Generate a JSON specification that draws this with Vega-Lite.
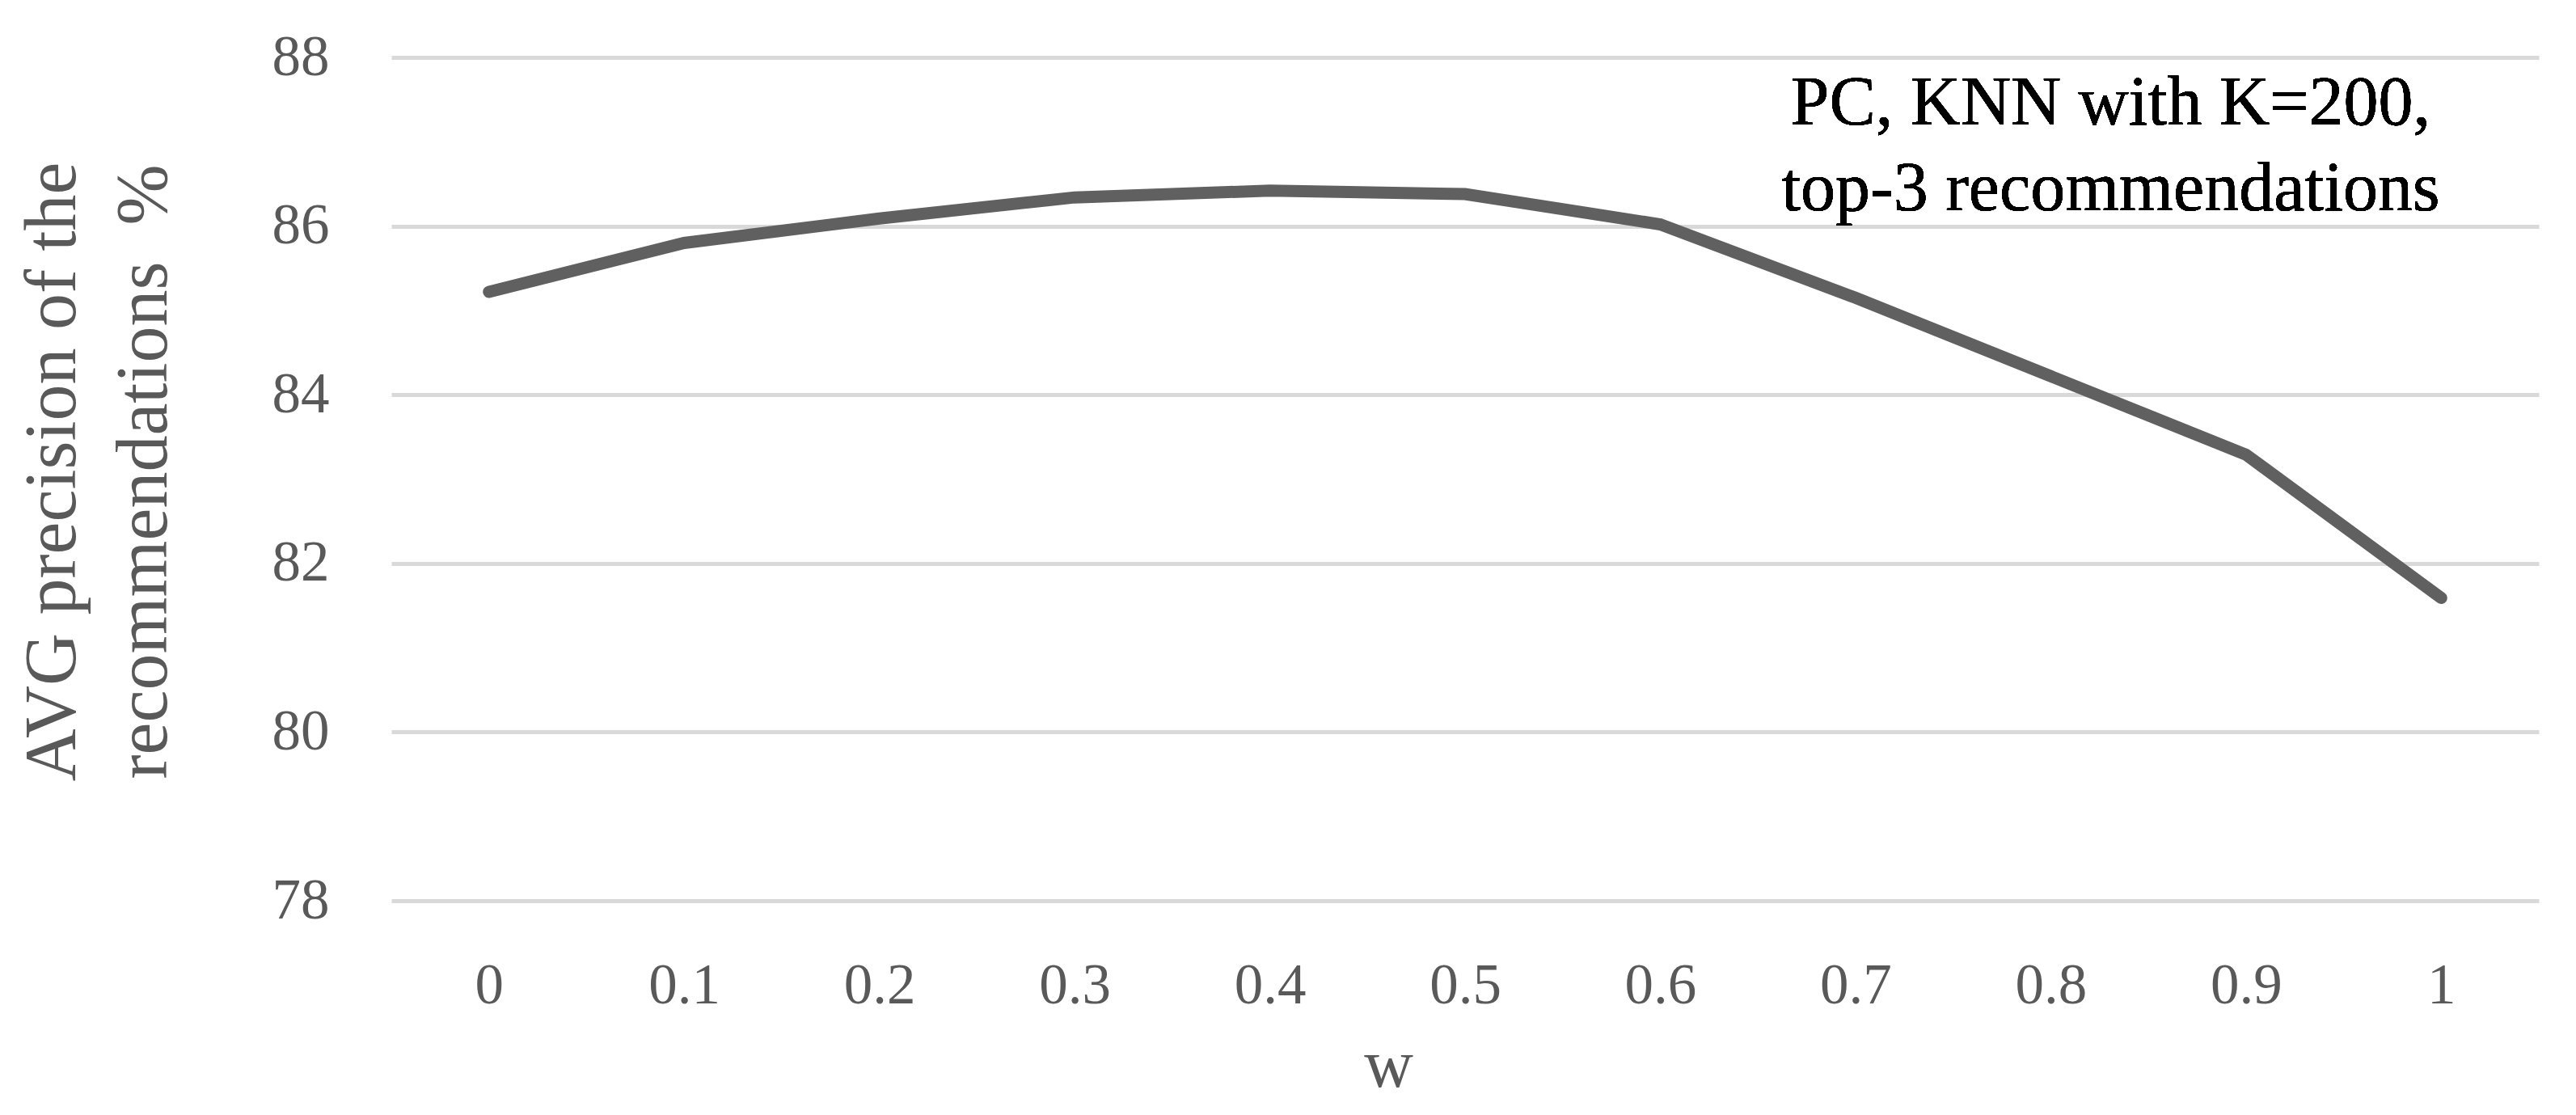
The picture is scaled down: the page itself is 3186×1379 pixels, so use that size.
{
  "$schema": "https://vega.github.io/schema/vega-lite/v6.json",
  "autosize": "none",
  "width": 2656,
  "height": 1043,
  "padding": {"left": 484, "top": 71, "right": 46, "bottom": 265},
  "background": "white",
  "config": {
    "view": {"stroke": null},
    "font": "Liberation Serif"
  },
  "data": {
    "values": [
      {"w": "0", "precision": 85.22},
      {"w": "0.1", "precision": 85.80},
      {"w": "0.2", "precision": 86.09},
      {"w": "0.3", "precision": 86.34},
      {"w": "0.4", "precision": 86.42},
      {"w": "0.5", "precision": 86.38},
      {"w": "0.6", "precision": 86.02},
      {"w": "0.7", "precision": 85.15},
      {"w": "0.8", "precision": 84.22},
      {"w": "0.9", "precision": 83.29},
      {"w": "1", "precision": 81.59}
    ]
  },
  "layer": [
    {
      "mark": {"type": "line", "color": "#606060", "strokeWidth": 15, "strokeCap": "round", "strokeJoin": "miter"},
      "encoding": {
        "x": {
          "field": "w", "type": "ordinal", "sort": null,
          "scale": {"type": "point", "padding": 0.5},
          "axis": {
            "title": "w", "labelAngle": 0, "labelFontSize": 71, "labelColor": "#595959",
            "labelFont": "Liberation Serif",
            "labelBaseline": "alphabetic", "labelPadding": 126,
            "ticks": false, "tickSize": 0, "domain": false, "grid": false,
            "titleFontSize": 84, "titleFontWeight": "normal", "titleColor": "#595959",
            "titleFont": "Liberation Serif",
            "titleX": 1233, "titleY": 229, "titleBaseline": "alphabetic", "titleAlign": "center"
          }
        },
        "y": {
          "field": "precision", "type": "quantitative",
          "scale": {"domain": [78, 88], "nice": false, "zero": false},
          "axis": {
            "values": [78, 80, 82, 84, 86, 88],
            "format": "d",
            "title": ["AVG precision of the", "recommendations \u00a0%"],
            "labelFontSize": 71, "labelColor": "#595959", "labelFont": "Liberation Serif",
            "labelPadding": 77, "ticks": false, "tickSize": 0, "domain": false,
            "grid": true, "gridColor": "#d9d9d9", "gridWidth": 5,
            "titleFontSize": 90, "titleFontWeight": "normal", "titleColor": "#595959",
            "titleFont": "Liberation Serif", "titleLineHeight": 113,
            "titleAngle": -90, "titleX": -392, "titleY": 512,
            "titleBaseline": "alphabetic", "titleAlign": "center"
          }
        }
      }
    },
    {
      "mark": {
        "type": "text",
        "text": ["PC, KNN with K=200,", "top-3 recommendations"],
        "font": "Liberation Serif", "fontSize": 86, "color": "#000000",
        "align": "center", "baseline": "alphabetic", "lineHeight": 106, "dx": 74
      },
      "encoding": {
        "x": {"datum": "0.8"},
        "y": {"datum": 87.204}
      }
    }
  ]
}
